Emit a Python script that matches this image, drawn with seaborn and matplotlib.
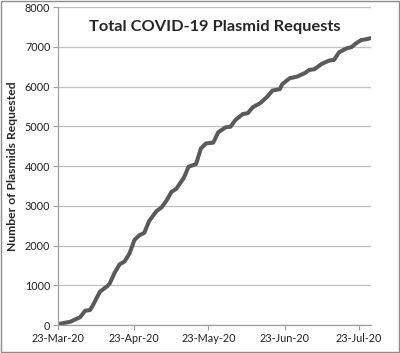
import pandas as pd
import matplotlib
matplotlib.use("Agg")
import matplotlib.pyplot as plt
import matplotlib.dates as mdates
from matplotlib.patches import Rectangle
import seaborn as sns

# -----------------------------
# DATA
# -----------------------------
DATES = [
    "2020-03-23", "2020-03-28", "2020-04-01", "2020-04-03", "2020-04-05",
    "2020-04-06", "2020-04-09", "2020-04-12", "2020-04-13", "2020-04-15",
    "2020-04-17", "2020-04-19", "2020-04-21", "2020-04-23", "2020-04-25",
    "2020-04-27", "2020-04-29", "2020-05-02", "2020-05-04", "2020-05-06",
    "2020-05-08", "2020-05-10", "2020-05-13", "2020-05-15", "2020-05-18",
    "2020-05-20", "2020-05-22", "2020-05-25", "2020-05-27", "2020-05-30",
    "2020-06-01", "2020-06-03", "2020-06-06", "2020-06-08", "2020-06-10",
    "2020-06-13", "2020-06-16", "2020-06-18", "2020-06-21", "2020-06-22",
    "2020-06-25", "2020-06-28", "2020-07-01", "2020-07-03", "2020-07-05",
    "2020-07-08", "2020-07-11", "2020-07-13", "2020-07-15", "2020-07-18",
    "2020-07-20", "2020-07-22", "2020-07-24", "2020-07-26", "2020-07-28",
]
REQUESTS = [
    25, 85, 200, 360, 380,
    480, 840, 980, 1050, 1320,
    1530, 1600, 1800, 2140, 2260,
    2320, 2620, 2870, 2960, 3130,
    3350, 3430, 3700, 3985, 4050,
    4445, 4570, 4590, 4850, 4975,
    4990, 5160, 5310, 5330, 5480,
    5580, 5750, 5900, 5935, 6060,
    6210, 6250, 6335, 6420, 6435,
    6570, 6655, 6670, 6860, 6960,
    6990, 7090, 7170, 7190, 7220,
]
X_TICKS = ["2020-03-23", "2020-04-23", "2020-05-23", "2020-06-23", "2020-07-23"]
Y_TICKS = [0, 1000, 2000, 3000, 4000, 5000, 6000, 7000, 8000]

df = pd.DataFrame({"date": pd.to_datetime(DATES), "requests": REQUESTS})

# -----------------------------
# STYLE
# -----------------------------
sns.set_theme(style="white")
plt.rcParams["font.family"] = ["Lato", "DejaVu Sans"]

fig = plt.figure(figsize=(4.0, 3.53), dpi=100)
ax = fig.add_axes([0.145, 0.079, 0.7825, 0.901])

sns.lineplot(data=df, x="date", y="requests", ax=ax, color="#5a5a5a", linewidth=2.9,
             solid_joinstyle="round", solid_capstyle="round")

ax.set_xlim(pd.Timestamp("2020-03-23"), pd.Timestamp("2020-07-28"))
ax.set_ylim(0, 8000)
ax.set_yticks(Y_TICKS)
ax.set_xticks(pd.to_datetime(X_TICKS))
ax.xaxis.set_major_formatter(mdates.DateFormatter("%d-%b-%y"))
ax.yaxis.grid(True, color="#c0c0c0", linewidth=0.9)
ax.tick_params(axis="both", labelsize=7.8, colors="#222222", length=3.5, width=0.8,
               direction="out", bottom=True, left=True, pad=2)
ax.tick_params(axis="both", color="#a0a0a0")

for side in ["top", "right"]:
    ax.spines[side].set_visible(False)
for side in ["left", "bottom"]:
    ax.spines[side].set_color("#a0a0a0")
    ax.spines[side].set_linewidth(0.9)

ax.set_xlabel("")
ax.set_ylabel("Number of Plasmids Requested", fontsize=8.7, fontweight="bold", labelpad=5)
ax.text(0.5, 0.958, "Total COVID-19 Plasmid Requests", transform=ax.transAxes,
        ha="center", va="top", fontsize=11.8, fontweight="bold")

# outer chart border
fig.patches.append(Rectangle((0.002, 0.002), 0.996, 0.996, transform=fig.transFigure,
                             fill=False, edgecolor="#8c8c8c", linewidth=1.0))

fig.savefig("out.png", dpi=100)
